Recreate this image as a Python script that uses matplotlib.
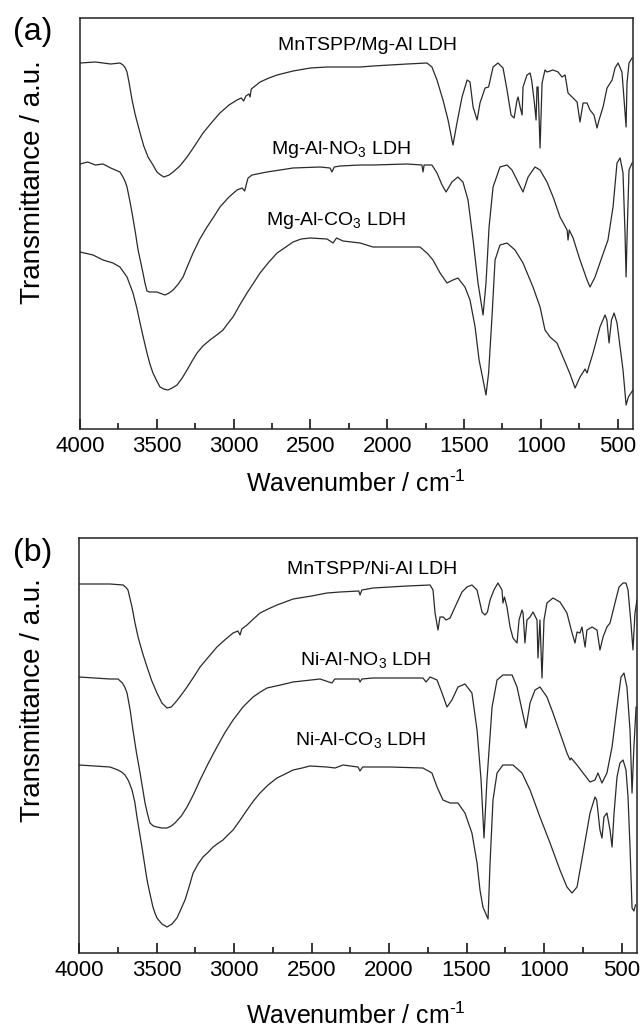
import matplotlib
matplotlib.use("Agg")
import matplotlib.pyplot as plt
from matplotlib.ticker import MultipleLocator

plt.rcParams['font.family'] = ['Liberation Sans', 'DejaVu Sans']
plt.rcParams['mathtext.fontset'] = 'custom'
plt.rcParams['mathtext.rm'] = 'Liberation Sans'
plt.rcParams['mathtext.it'] = 'Liberation Sans:italic'

# spectra: (wavenumber cm-1, transmittance a.u.)
# ---- (a) Mg-Al series ----
spec_a_mn = [(4000, 366), (3900, 367), (3800, 365), (3740, 366), (3720, 364), (3705, 361), (3694, 357),
             (3680, 346), (3661, 329), (3640, 314), (3609, 296), (3585, 283), (3557, 272), (3525, 264),
             (3499, 257), (3475, 254), (3453, 252), (3420, 254), (3394, 257), (3350, 263), (3303, 272),
             (3250, 284), (3199, 296), (3140, 307), (3089, 316), (3030, 324), (2978, 329), (2950, 331),
             (2935, 328), (2920, 333), (2900, 335), (2893, 332), (2885, 340), (2860, 343), (2828, 347),
             (2770, 351), (2717, 354), (2613, 358), (2500, 361), (2392, 362), (2307, 362), (2177, 362),
             (2092, 363), (1982, 364), (1871, 365), (1741, 366), (1709, 362), (1676, 349), (1637, 329),
             (1604, 309), (1572, 284), (1546, 306), (1513, 332), (1480, 349), (1461, 347), (1441, 322),
             (1415, 309), (1396, 326), (1363, 341), (1340, 342), (1311, 362), (1279, 366), (1246, 361),
             (1220, 339), (1194, 314), (1174, 311), (1155, 329), (1148, 332), (1135, 322), (1122, 314),
             (1116, 342), (1090, 354), (1070, 356), (1060, 349), (1044, 329), (1031, 309), (1025, 342),
             (1018, 342), (1005, 281), (992, 346), (973, 359), (960, 357), (920, 359), (888, 357),
             (862, 352), (842, 354), (823, 336), (797, 332), (777, 329), (764, 327), (745, 307),
             (725, 326), (699, 326), (680, 319), (654, 314), (634, 301), (621, 309), (595, 322),
             (569, 341), (536, 349), (517, 361), (497, 366), (472, 357), (458, 329), (445, 302),
             (439, 346), (426, 366), (406, 371)]

spec_a_no3 = [(4000, 265), (3950, 267), (3900, 264), (3850, 265), (3800, 261), (3740, 257), (3720, 252),
              (3705, 247), (3694, 242), (3678, 230), (3661, 216), (3640, 197), (3622, 179), (3605, 167),
              (3590, 156), (3577, 146), (3564, 138), (3547, 137), (3531, 137), (3499, 137), (3447, 134),
              (3420, 136), (3394, 139), (3360, 145), (3329, 152), (3300, 163), (3264, 176), (3220, 190),
              (3173, 202), (3130, 212), (3089, 222), (3030, 232), (2978, 239), (2945, 241), (2928, 238),
              (2915, 246), (2906, 251), (2880, 254), (2783, 257), (2613, 261), (2437, 262), (2372, 261),
              (2360, 257), (2345, 262), (2307, 263), (2177, 264), (2092, 264), (1871, 265), (1774, 264),
              (1767, 257), (1760, 264), (1709, 264), (1676, 256), (1643, 244), (1617, 237), (1579, 247),
              (1540, 252), (1507, 247), (1474, 229), (1441, 189), (1409, 146), (1376, 114), (1357, 146),
              (1337, 202), (1311, 242), (1266, 262), (1220, 264), (1188, 259), (1155, 249), (1116, 237),
              (1083, 252), (1038, 262), (1005, 259), (960, 247), (920, 232), (875, 212), (829, 199),
              (823, 189), (815, 199), (790, 191), (745, 169), (699, 149), (680, 142), (647, 152),
              (602, 172), (563, 189), (530, 222), (504, 266), (484, 271), (465, 256), (452, 196),
              (445, 152), (438, 196), (426, 259), (406, 266)]

spec_a_co3 = [(4000, 177), (3915, 174), (3850, 169), (3785, 166), (3740, 162), (3694, 152), (3655, 136),
              (3630, 121), (3609, 106), (3587, 91), (3564, 76), (3545, 65), (3525, 56), (3500, 48),
              (3479, 42), (3455, 40), (3427, 39), (3400, 41), (3368, 44), (3335, 51), (3303, 59),
              (3270, 68), (3238, 76), (3200, 83), (3154, 89), (3110, 94), (3069, 99), (3040, 105),
              (3004, 112), (2960, 124), (2913, 136), (2870, 146), (2828, 156), (2770, 167), (2717, 176),
              (2660, 182), (2613, 187), (2560, 190), (2502, 191), (2392, 190), (2353, 186), (2330, 191),
              (2288, 188), (2177, 186), (2092, 182), (1982, 182), (1871, 182), (1787, 182), (1741, 176),
              (1702, 169), (1656, 156), (1611, 146), (1572, 149), (1540, 151), (1494, 142), (1461, 129),
              (1428, 102), (1402, 69), (1376, 49), (1357, 34), (1340, 56), (1318, 112), (1298, 169),
              (1266, 184), (1220, 186), (1168, 179), (1116, 166), (1051, 142), (1005, 122), (973, 99),
              (940, 92), (895, 86), (856, 72), (810, 55), (777, 41), (745, 52), (712, 60), (699, 56),
              (688, 62), (660, 76), (615, 102), (582, 114), (570, 109), (556, 86), (540, 109),
              (523, 116), (504, 106), (484, 82), (465, 59), (445, 24), (430, 32), (400, 39)]

# ---- (b) Ni-Al series ----
spec_b_mn = [(4000, 369), (3800, 369), (3716, 368), (3700, 366), (3684, 363), (3658, 346), (3640, 331),
             (3619, 316), (3590, 300), (3561, 286), (3530, 272), (3497, 260), (3465, 250), (3432, 245),
             (3405, 246), (3381, 250), (3345, 257), (3303, 266), (3260, 276), (3219, 286), (3165, 296),
             (3110, 306), (3060, 313), (3006, 320), (2975, 322), (2961, 318), (2950, 324), (2916, 328),
             (2875, 334), (2832, 340), (2780, 344), (2723, 348), (2670, 351), (2619, 354), (2500, 357),
             (2400, 360), (2316, 361), (2195, 362), (2187, 358), (2175, 363), (2103, 365), (1884, 367),
             (1735, 368), (1716, 363), (1703, 340), (1684, 323), (1671, 336), (1650, 336), (1632, 333),
             (1606, 335), (1574, 346), (1529, 361), (1497, 366), (1465, 368), (1432, 363), (1400, 341),
             (1381, 338), (1365, 341), (1348, 353), (1323, 363), (1297, 370), (1271, 363), (1265, 350),
             (1255, 356), (1239, 346), (1219, 326), (1200, 315), (1174, 310), (1161, 333), (1142, 343),
             (1135, 340), (1123, 310), (1110, 333), (1090, 336), (1071, 341), (1045, 333), (1039, 295),
             (1026, 333), (1013, 275), (1000, 333), (981, 350), (942, 355), (897, 351), (852, 340),
             (819, 320), (800, 310), (787, 321), (768, 320), (755, 326), (735, 306), (723, 323),
             (690, 326), (658, 323), (639, 303), (619, 316), (594, 326), (574, 330), (542, 350),
             (516, 366), (490, 370), (471, 370), (458, 363), (439, 330), (426, 303), (413, 340),
             (400, 353)]

spec_b_no3 = [(4000, 276), (3900, 275), (3800, 274), (3748, 274), (3720, 270), (3705, 266), (3690, 260),
              (3670, 243), (3652, 223), (3630, 201), (3606, 180), (3590, 165), (3574, 150), (3558, 139),
              (3542, 130), (3520, 127), (3497, 126), (3465, 125), (3432, 125), (3405, 127), (3381, 130),
              (3340, 137), (3303, 146), (3260, 159), (3219, 173), (3165, 190), (3110, 206), (3060, 220),
              (3006, 233), (2942, 246), (2910, 251), (2877, 256), (2830, 261), (2787, 265), (2700, 268),
              (2619, 271), (2445, 274), (2368, 270), (2350, 274), (2195, 274), (2187, 271), (2175, 274),
              (2103, 275), (1781, 275), (1761, 271), (1735, 276), (1690, 273), (1658, 260), (1626, 246),
              (1594, 253), (1555, 266), (1510, 269), (1465, 260), (1432, 223), (1406, 173), (1387, 115),
              (1368, 173), (1335, 246), (1303, 273), (1265, 278), (1206, 278), (1174, 266), (1142, 243),
              (1116, 225), (1090, 250), (1058, 263), (1026, 266), (981, 256), (942, 240), (897, 220),
              (852, 200), (832, 193), (825, 195), (787, 188), (748, 180), (703, 171), (671, 173),
              (652, 180), (626, 170), (594, 180), (561, 206), (529, 246), (503, 276), (484, 280),
              (465, 266), (445, 223), (432, 160), (420, 206), (406, 246)]

spec_b_co3 = [(4000, 188), (3900, 187), (3800, 186), (3748, 183), (3725, 181), (3703, 178), (3680, 172),
              (3658, 163), (3640, 151), (3626, 136), (3610, 121), (3594, 106), (3578, 90), (3561, 73),
              (3542, 59), (3523, 46), (3510, 40), (3497, 35), (3465, 29), (3432, 26), (3400, 29),
              (3368, 35), (3342, 44), (3316, 53), (3290, 66), (3264, 80), (3232, 89), (3200, 96),
              (3165, 101), (3135, 106), (3100, 110), (3071, 113), (3040, 118), (3006, 123), (2960, 133),
              (2916, 143), (2875, 152), (2832, 160), (2780, 168), (2723, 175), (2670, 179), (2619, 183),
              (2560, 185), (2510, 187), (2400, 186), (2348, 185), (2297, 188), (2200, 186), (2187, 182),
              (2170, 186), (1994, 186), (1781, 185), (1723, 180), (1690, 166), (1652, 153), (1606, 150),
              (1555, 150), (1510, 140), (1465, 120), (1432, 90), (1413, 63), (1394, 46), (1361, 34),
              (1348, 90), (1329, 153), (1303, 180), (1265, 188), (1200, 188), (1142, 180), (1090, 163),
              (1026, 136), (961, 110), (897, 83), (852, 66), (819, 60), (787, 66), (748, 100),
              (703, 140), (671, 156), (660, 153), (639, 123), (626, 115), (613, 136), (594, 140),
              (574, 123), (561, 106), (548, 140), (529, 176), (510, 190), (490, 193), (471, 183),
              (458, 156), (445, 106), (432, 45), (420, 42), (410, 48)]

labels_a = ['MnTSPP/Mg-Al LDH', 'Mg-Al-NO$_3$ LDH', 'Mg-Al-CO$_3$ LDH']
labels_b = ['MnTSPP/Ni-Al LDH', 'Ni-Al-NO$_3$ LDH', 'Ni-Al-CO$_3$ LDH']

W, H = 641, 1033
fig = plt.figure(figsize=(W / 100, H / 100), dpi=100)


def fx(px):
    return px / W


def fy(py):
    return 1 - py / H


def make_panel(rect, spectra, ylim):
    ax = fig.add_axes(rect)
    for spec in spectra:
        wn, t = zip(*spec)
        ax.plot(wn, t, color='#2a2a2a', lw=0.9)
    ax.set_xlim(4000, 400)
    ax.set_ylim(*ylim)
    ax.xaxis.set_major_locator(MultipleLocator(500))
    ax.xaxis.set_minor_locator(MultipleLocator(250))
    ax.tick_params(axis='x', which='major', direction='in', length=7, width=1.1,
                   labelsize=16, pad=5, top=False)
    ax.tick_params(axis='x', which='minor', direction='in', length=4, width=1.1, top=False)
    ax.set_yticks([])
    for s in ax.spines.values():
        s.set_linewidth(1.1)
        s.set_color('#222222')
    return ax


ax_a = make_panel([fx(80), fy(429), fx(633) - fx(80), fy(18) - fy(429)],
                  [spec_a_mn, spec_a_no3, spec_a_co3], (0, 411))
ax_b = make_panel([fx(79), fy(953), fx(637) - fx(79), fy(538) - fy(953)],
                  [spec_b_mn, spec_b_no3, spec_b_co3], (0, 415))

# curve labels (pixel positions of the text baselines)
for lab, (px, py) in zip(labels_a, [(368, 50), (341, 154), (336, 225)]):
    fig.text(fx(px), fy(py), lab, ha='center', va='baseline', fontsize=14)
for lab, (px, py) in zip(labels_b, [(372, 574), (366, 665), (361, 745)]):
    fig.text(fx(px), fy(py), lab, ha='center', va='baseline', fontsize=14)

# axis titles and panel letters
for py_lab, py_x, py_y, letter in [(32, 492, 182, '(a)'), (553, 1024, 700, '(b)')]:
    fig.text(fx(33), fy(py_lab), letter, ha='center', va='center', fontsize=23)
    fig.text(fx(356), fy(py_x), r'Wavenumber / cm$^{\text{-1}}$', ha='center', va='baseline',
             fontsize=18)
    fig.text(fx(33), fy(py_y), 'Transmittance / a.u.', ha='center', va='center',
             rotation=90, fontsize=20)

fig.savefig('out.png', dpi=100)
